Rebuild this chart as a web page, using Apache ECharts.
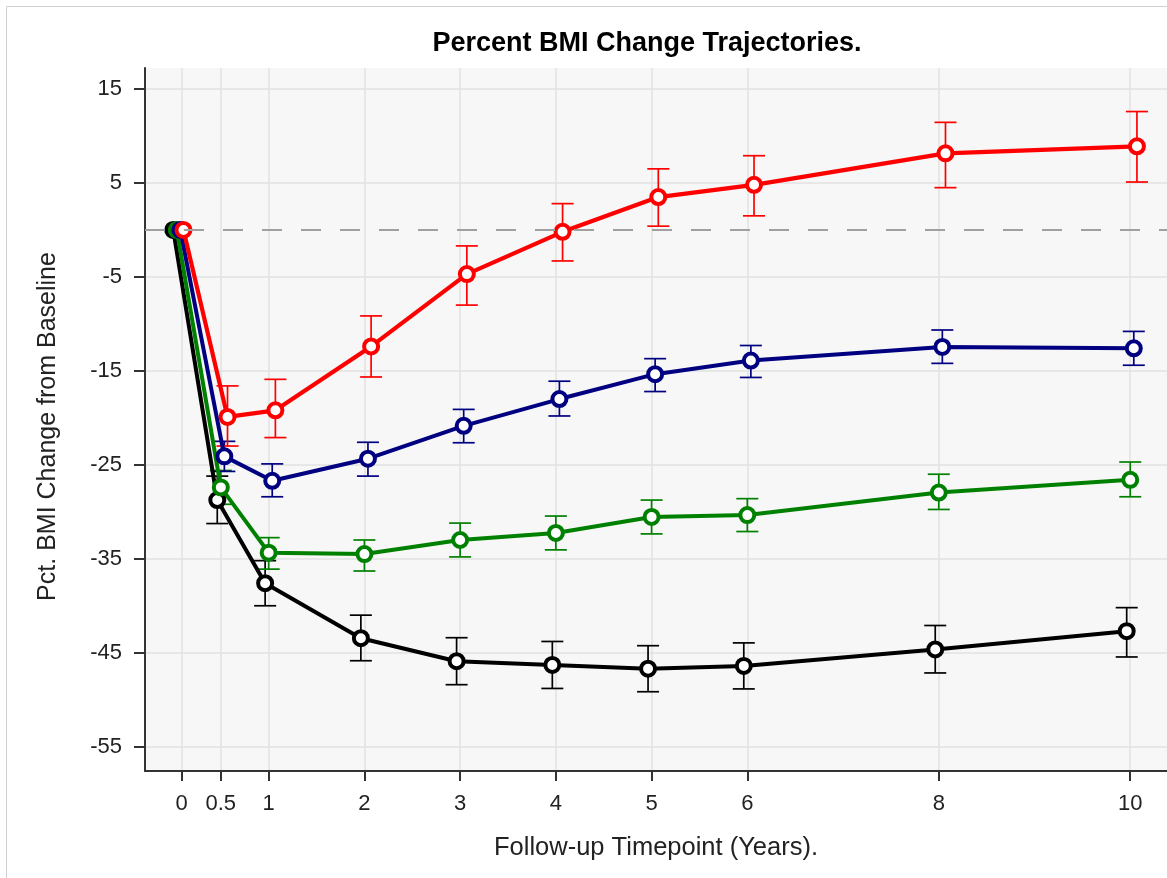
<!DOCTYPE html>
<html><head><meta charset="utf-8">
<script src="https://cdn.jsdelivr.net/npm/echarts@6/dist/echarts.min.js"></script>
<style>html,body{margin:0;padding:0;background:#fff}#c{width:1167px;height:878px}</style>
</head><body><div id="c"></div>
<script>
// Follow-up timepoints (years) and where they sit on the axis
const timepoints = [0, 0.5, 1, 2, 3, 4, 5, 6, 8, 10];
const timePos    = [0.04, 0.5, 1, 2, 3, 4, 5, 6, 8, 10];
const xTickPos    = [0.09, 0.5, 1, 2, 3, 4, 5, 6, 8, 10];
const xTickLabels = ['0', '0.5', '1', '2', '3', '4', '5', '6', '8', '10'];
const yTicks = [15, 5, -5, -15, -25, -35, -45, -55];

// Series (mean, lower and upper error bar ends)
const redMean   = [0, -19.9, -19.2, -12.4, -4.7, -0.2, 3.5, 4.8, 8.15, 8.9];
const redLow    = [null, -23.0, -22.1, -15.65, -8.0, -3.3, 0.4, 1.5, 4.5, 5.1];
const redHigh   = [null, -16.6, -15.9, -9.15, -1.7, 2.8, 6.5, 7.9, 11.45, 12.6];

const blueMean  = [0, -24.1, -26.7, -24.35, -20.85, -18.0, -15.35, -13.9, -12.45, -12.6];
const blueLow   = [null, -25.7, -28.4, -26.2, -22.65, -19.8, -17.2, -15.7, -14.2, -14.4];
const blueHigh  = [null, -22.5, -24.9, -22.6, -19.1, -16.1, -13.7, -12.3, -10.65, -10.8];

const greenMean = [0, -27.4, -34.35, -34.5, -33.0, -32.25, -30.55, -30.35, -27.95, -26.6];
const greenLow  = [null, -29.2, -36.1, -36.3, -34.8, -34.05, -32.35, -32.1, -29.75, -28.4];
const greenHigh = [null, -25.6, -32.75, -33.0, -31.2, -30.45, -28.75, -28.6, -26.0, -24.7];

const blackMean = [0, -28.75, -37.6, -43.45, -45.9, -46.3, -46.7, -46.4, -44.65, -42.7];
const blackLow  = [null, -31.25, -40.0, -45.85, -48.4, -48.8, -49.15, -48.85, -47.15, -45.45];
const blackHigh = [null, -26.2, -35.2, -41.0, -43.4, -43.8, -44.25, -43.95, -42.1, -40.2];

const groups = [
  { name: 'black', color: '#000000', mean: blackMean, low: blackLow, high: blackHigh, dodge: -0.037, width: 4 },
  { name: 'green', color: '#008000', mean: greenMean, low: greenLow, high: greenHigh, dodge: 0, width: 4 },
  { name: 'blue',  color: '#000080', mean: blueMean,  low: blueLow,  high: blueHigh,  dodge: 0.037, width: 4 },
  { name: 'red',   color: '#ff0000', mean: redMean,   low: redLow,   high: redHigh,   dodge: 0.07, width: 4.2 }
];

const FONT = 'Liberation Sans, Arial, sans-serif';
const series = [];
groups.forEach((g, gi) => {
  series.push({
    type: 'custom',
    name: g.name + '-err',
    silent: true,
    animation: false,
    encode: { x: 0, y: [1, 2] },
    data: timePos.map((t, i) => g.low[i] == null ? null : [t + g.dodge, g.low[i], g.high[i]]).filter(d => d),
    renderItem: function (params, api) {
      const x = api.value(0);
      const pLo = api.coord([x, api.value(1)]);
      const pHi = api.coord([x, api.value(2)]);
      const w = 11;
      const style = { stroke: g.color, lineWidth: 1.7 };
      return { type: 'group', children: [
        { type: 'line', shape: { x1: pHi[0], y1: pHi[1], x2: pLo[0], y2: pLo[1] }, style: style },
        { type: 'line', shape: { x1: pHi[0] - w, y1: pHi[1], x2: pHi[0] + w, y2: pHi[1] }, style: style },
        { type: 'line', shape: { x1: pLo[0] - w, y1: pLo[1], x2: pLo[0] + w, y2: pLo[1] }, style: style }
      ]};
    }
  });
  const s = {
    type: 'line',
    name: g.name,
    animation: false,
    data: timePos.map((t, i) => [t + g.dodge, g.mean[i]]),
    symbol: 'circle',
    symbolSize: 14,
    lineStyle: { color: g.color, width: g.width },
    itemStyle: { color: '#ffffff', borderColor: g.color, borderWidth: 4 },
    emphasis: { disabled: true }
  };
  if (gi === 0) {
    s.markLine = {
      silent: true, symbol: 'none', animation: false,
      label: { show: false },
      lineStyle: { color: '#a0a0a0', type: [20, 19], width: 2 },
      data: [{ yAxis: 0 }]
    };
  }
  series.push(s);
});

const chart = echarts.init(document.getElementById('c'));
chart.setOption({
  backgroundColor: '#ffffff',
  animation: false,
  title: {
    text: 'Percent BMI Change Trajectories.',
    left: 642, top: 25, textAlign: 'center',
    textStyle: { fontFamily: FONT, fontSize: 27, fontWeight: 'bold', color: '#000' }
  },
  graphic: [{
    type: 'rect', left: 4, top: 4, z: -10,
    shape: { width: 1200, height: 900 },
    style: { fill: 'none', stroke: '#cfcfcf', lineWidth: 1 }
  }],
  grid: {
    left: 145, top: 68, right: 0, bottom: 107,
    show: true, backgroundColor: '#f7f7f7', borderWidth: 0
  },
  xAxis: {
    type: 'value',
    min: -0.292, max: 10.384,
    name: 'Follow-up Timepoint (Years).',
    nameLocation: 'middle', nameGap: 64,
    nameTextStyle: { fontFamily: FONT, fontSize: 25.5, color: '#222' },
    axisLine: { show: true, onZero: false, lineStyle: { color: '#333', width: 2 } },
    axisTick: { show: true, customValues: xTickPos, length: 10, lineStyle: { color: '#333', width: 2 } },
    axisLabel: {
      customValues: xTickPos, margin: 22,
      fontFamily: FONT, fontSize: 22, color: '#222',
      formatter: function (v) {
        const i = xTickPos.findIndex(p => Math.abs(p - v) < 1e-6);
        return i >= 0 ? xTickLabels[i] : '';
      }
    },
    splitLine: { show: true, lineStyle: { color: '#e2e2e2', width: 1.5 } }
  },
  yAxis: {
    type: 'value',
    min: -57.586, max: 17.235,
    name: 'Pct. BMI Change from Baseline',
    nameLocation: 'middle', nameGap: 84,
    nameTextStyle: { fontFamily: FONT, fontSize: 25, color: '#222', padding: [0, 14, 0, 0] },
    axisLine: { show: true, onZero: false, lineStyle: { color: '#333', width: 2 } },
    axisTick: { show: true, customValues: yTicks, length: 11, lineStyle: { color: '#333', width: 2 } },
    axisLabel: { customValues: yTicks, margin: 23, fontFamily: FONT, fontSize: 22, color: '#222' },
    splitLine: { show: true, lineStyle: { color: '#e2e2e2', width: 1.5 } }
  },
  series: series
});
</script></body></html>
